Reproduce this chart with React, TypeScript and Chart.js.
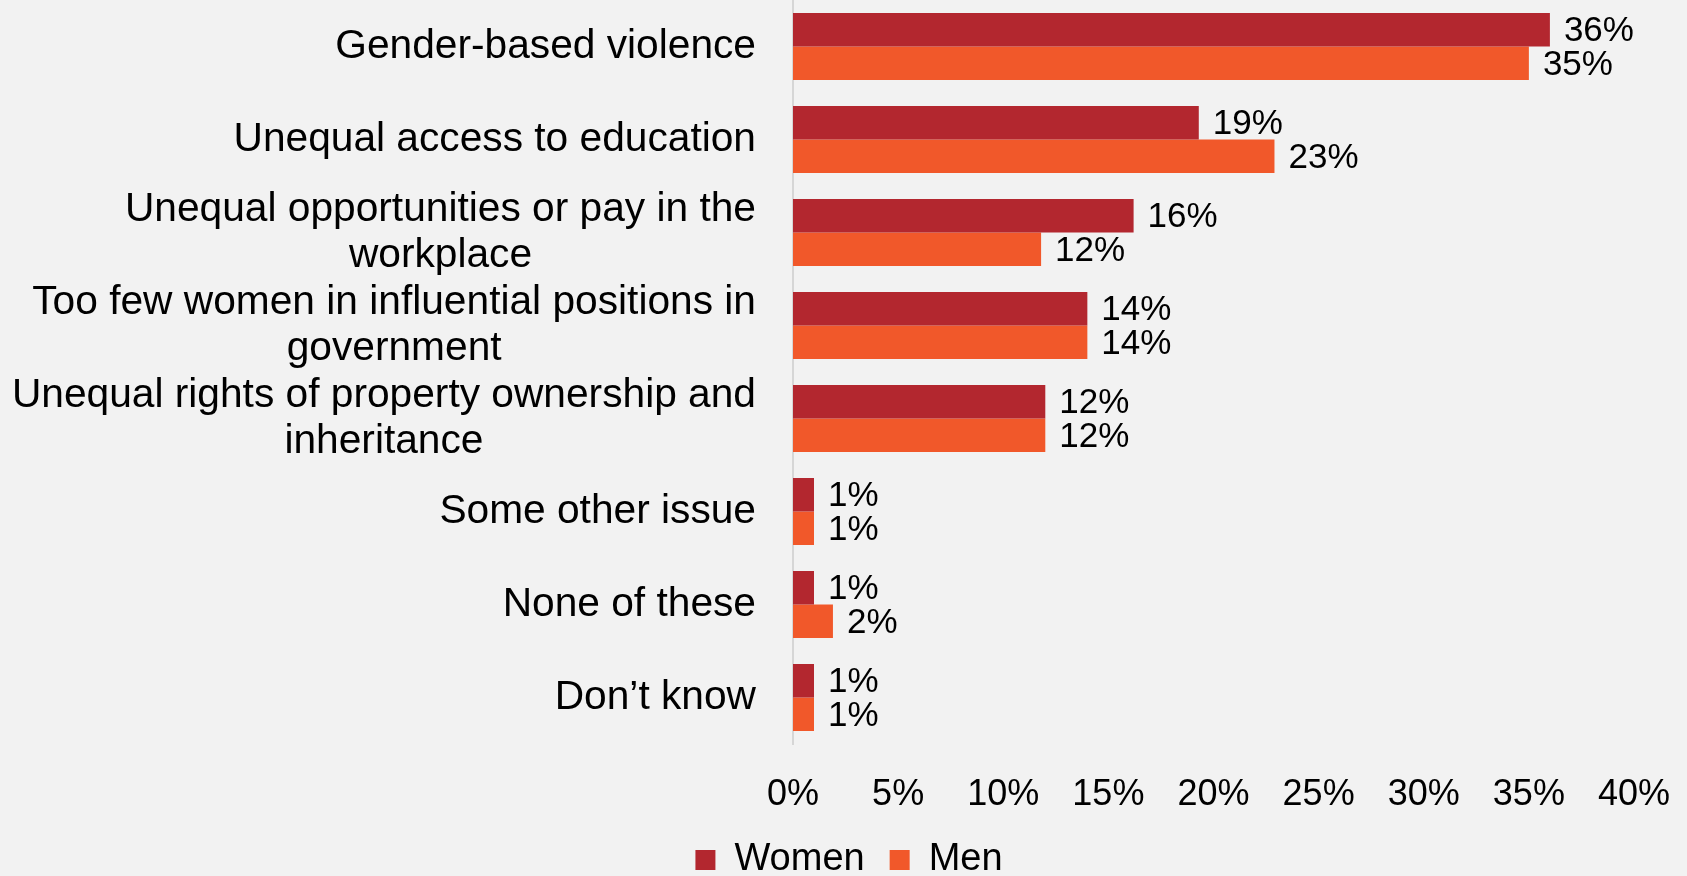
import React, { useEffect, useRef } from "react";
import { Chart, registerables } from "chart.js";

Chart.register(...registerables);

// ---- data ----
const categories: string[][] = [
  ["Gender-based violence"],
  ["Unequal access to education"],
  ["Unequal opportunities or pay in the", "workplace"],
  ["Too few women in influential positions in", "government"],
  ["Unequal rights of property ownership and", "inheritance"],
  ["Some other issue"],
  ["None of these"],
  ["Don\u2019t know"],
];
const seriesNames = ["Women", "Men"];
const women = [36.0, 19.3, 16.2, 14.0, 12.0, 1.0, 1.0, 1.0];
const men = [35.0, 22.9, 11.8, 14.0, 12.0, 1.0, 1.9, 1.0];
const xMin = 0;
const xMax = 40;
const xStep = 5;

// ---- style ----
const FONT = '"Liberation Sans", Arial, sans-serif';
const WOMEN_COLOR = "#B3272F";
const MEN_COLOR = "#F1582A";
const BG = "#f2f2f2";
const CAT_FONT = 40.7;
const CAT_LINE = 46;
const CAT_GAP = 37;
const PAD_LEFT = 64;
const PAD_RIGHT = 53;
const AXIS_LEFT = 793;
const LEGEND_PAD = 25;

const categoryLabelPlugin = {
  id: "categoryLabels",
  afterDraw(chart: any) {
    const yScale = chart.scales.y;
    const ctx = chart.ctx;
    ctx.save();
    ctx.font = `${CAT_FONT}px ${FONT}`;
    ctx.fillStyle = "#000";
    ctx.textBaseline = "middle";
    ctx.textAlign = "center";
    const right = chart.chartArea.left - CAT_GAP;
    (chart.data.labels as string[][]).forEach((lines, i) => {
      const cy = yScale.getPixelForTick(i);
      const w = Math.max(...lines.map((l) => ctx.measureText(l).width));
      const cx = right - w / 2;
      const y0 = cy - ((lines.length - 1) * CAT_LINE) / 2;
      lines.forEach((l, k) => ctx.fillText(l, cx, y0 + k * CAT_LINE));
    });
    ctx.restore();
  },
};

const valueLabelPlugin = {
  id: "valueLabels",
  afterDatasetsDraw(chart: any) {
    const ctx = chart.ctx;
    ctx.save();
    ctx.font = `35px ${FONT}`;
    ctx.fillStyle = "#000";
    ctx.textBaseline = "middle";
    ctx.textAlign = "left";
    chart.data.datasets.forEach((ds: any, di: number) => {
      const meta = chart.getDatasetMeta(di);
      meta.data.forEach((bar: any, i: number) => {
        const v = ds.data[i] as number;
        ctx.fillText(Math.round(v) + "%", bar.x + 14, bar.y + 2);
      });
    });
    ctx.restore();
  },
};

export default function App() {
  const ref = useRef<HTMLCanvasElement | null>(null);
  useEffect(() => {
    if (!ref.current) return;
    const chart = new Chart(ref.current, {
      type: "bar",
      data: {
        labels: categories as any,
        datasets: [
          {
            label: seriesNames[0],
            data: women,
            backgroundColor: WOMEN_COLOR,
            borderWidth: 0,
            categoryPercentage: 0.72,
            barPercentage: 1.0,
          },
          {
            label: seriesNames[1],
            data: men,
            backgroundColor: MEN_COLOR,
            borderWidth: 0,
            categoryPercentage: 0.72,
            barPercentage: 1.0,
          },
        ],
      },
      options: {
        indexAxis: "y",
        responsive: false,
        animation: false,
        devicePixelRatio: 1,
        layout: { padding: { top: 0, left: PAD_LEFT, right: PAD_RIGHT, bottom: -13 } },
        scales: {
          x: {
            min: xMin,
            max: xMax,
            grid: { display: false, drawTicks: false },
            border: { display: false },
            ticks: {
              stepSize: xStep,
              padding: 29,
              color: "#000",
              font: { family: FONT, size: 36 },
              callback: (v: any) => v + "%",
            },
            afterFit: (s: any) => {
              s.height = 72;
              s.paddingLeft = 0;
              s.paddingRight = 0;
            },
          },
          y: {
            grid: { display: false, drawTicks: false },
            border: { display: true, color: "#d6d6d6", width: 2 },
            ticks: { display: false },
            afterFit: (s: any) => {
              s.width = AXIS_LEFT - PAD_LEFT;
            },
          },
        },
        plugins: {
          legend: {
            position: "bottom",
            labels: {
              boxWidth: 20,
              boxHeight: 20,
              padding: LEGEND_PAD,
              color: "#000",
              font: { family: FONT, size: 38 },
            },
          },
          tooltip: { enabled: false },
        },
      },
      plugins: [categoryLabelPlugin, valueLabelPlugin],
    });
    return () => chart.destroy();
  }, []);
  return (
    <div
      style={{
        position: "fixed",
        left: 0,
        top: 0,
        width: 1687,
        height: 876,
        background: BG,
        overflow: "hidden",
      }}
    >
      <canvas ref={ref} width={1687} height={876} style={{ display: "block" }} />
    </div>
  );
}
